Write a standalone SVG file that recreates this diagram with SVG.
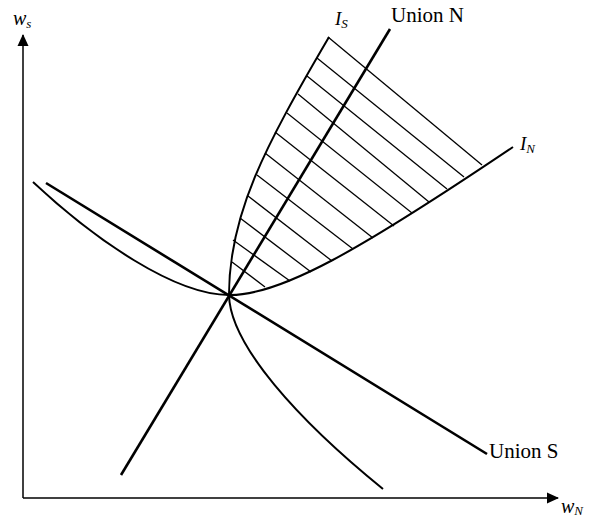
<svg xmlns="http://www.w3.org/2000/svg" width="599" height="519" viewBox="0 0 599 519">
<style>
.ax{stroke:#000;stroke-width:1.5;fill:none}
.un{stroke:#000;stroke-width:2.6;fill:none;stroke-linecap:butt}
.cv{stroke:#000;stroke-width:2;fill:none}
.ht{stroke:#000;stroke-width:1.3;fill:none}
.lb{font-family:"Liberation Serif","Times New Roman",serif;fill:#000}
.it{font-style:italic}
</style>
<defs>
<marker id="arr" viewBox="0 0 12 12" refX="11" refY="6" markerWidth="12" markerHeight="12" markerUnits="userSpaceOnUse" orient="auto">
<path d="M0,0.5 L12,6 L0,11.5 Z" fill="#000"/>
</marker>
</defs>
<rect width="599" height="519" fill="#fff"/>
<g id="axes">
<line class="ax" x1="23" y1="498" x2="23" y2="35" marker-end="url(#arr)"/>
<line class="ax" x1="23" y1="498" x2="558" y2="498" marker-end="url(#arr)"/>
</g>
<g id="hatch">
<line class="ht" x1="328" y1="37" x2="482" y2="165"/>
<line class="ht" x1="317" y1="58" x2="464" y2="177"/>
<line class="ht" x1="307" y1="76" x2="447" y2="189"/>
<line class="ht" x1="298" y1="94" x2="429" y2="202"/>
<line class="ht" x1="287" y1="113" x2="412" y2="213"/>
<line class="ht" x1="275" y1="132" x2="394" y2="226"/>
<line class="ht" x1="265" y1="153" x2="373" y2="238"/>
<line class="ht" x1="257" y1="175" x2="353" y2="249"/>
<line class="ht" x1="248" y1="196" x2="332" y2="261"/>
<line class="ht" x1="240" y1="218" x2="311" y2="272"/>
<line class="ht" x1="233" y1="240" x2="290" y2="281"/>
<line class="ht" x1="232" y1="262" x2="265" y2="287"/>
</g>
<g id="curve-IS">
<path class="cv" d="M229,295 C229,215 264,148 329,37"/>
<path class="cv" d="M229,295 C230,345 298,420 383,489"/>
</g>
<g id="curve-IN">
<path class="cv" d="M229,295 C175,295 95,240 33,182"/>
<path class="cv" d="M229,295 C280,296 360,250 513,147"/>
</g>
<g id="connectors">
<line id="union-N" class="un" x1="121" y1="475" x2="390" y2="29"/>
<line id="union-S" class="un" x1="46" y1="183" x2="487" y2="454"/>
</g>
<g id="labels">
<text class="lb it" x="13" y="25" font-size="20">w<tspan font-size="13" dy="3">s</tspan></text>
<text class="lb it" x="561" y="513" font-size="20">w<tspan font-size="13" dy="2">N</tspan></text>
<text class="lb it" x="335" y="25" font-size="19">I<tspan font-size="13" dy="3">S</tspan></text>
<text class="lb it" x="520" y="150" font-size="19">I<tspan font-size="13" dy="3">N</tspan></text>
<text class="lb" x="391" y="22" font-size="21">Union N</text>
<text class="lb" x="489" y="458" font-size="21">Union S</text>
</g>
</svg>
